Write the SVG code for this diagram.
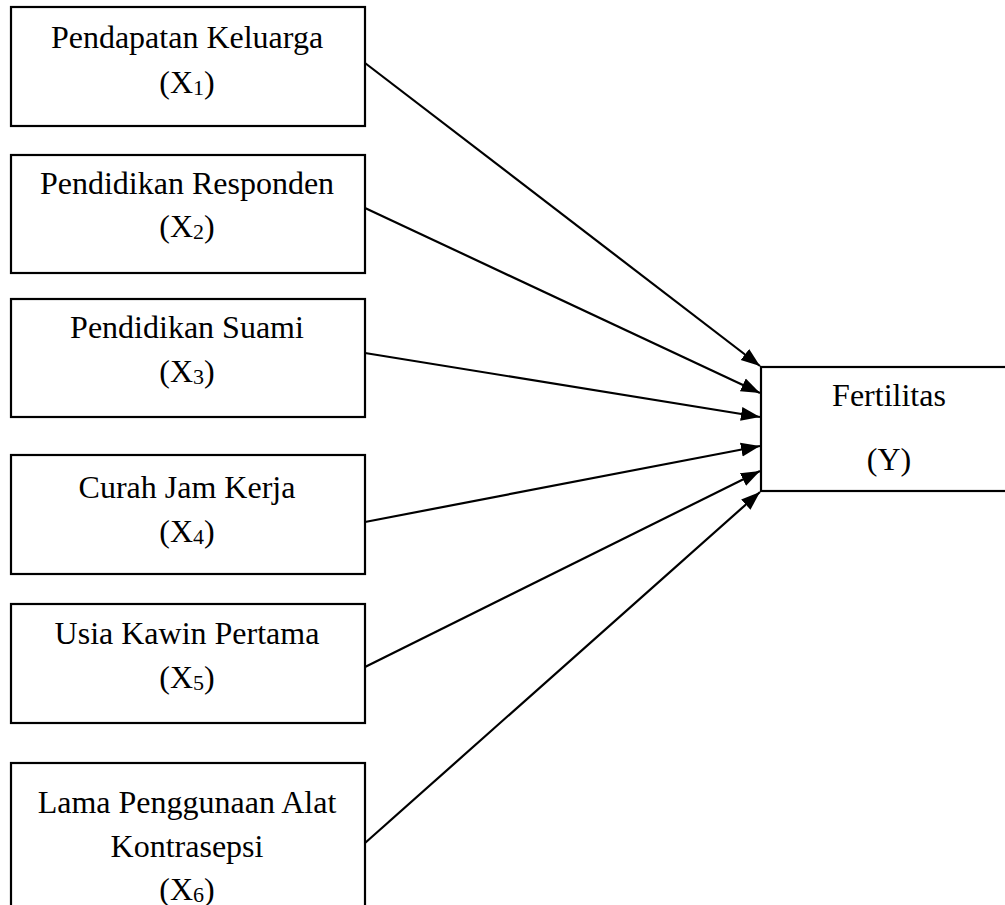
<svg xmlns="http://www.w3.org/2000/svg" width="1005" height="905" viewBox="0 0 1005 905">
<style>
.box{fill:#fff;stroke:#000;stroke-width:2.2}
.t{font-family:"Liberation Serif","Times New Roman",serif;font-size:32px;fill:#000;text-anchor:middle}
.sub{font-size:22px}
.c{stroke:#000;stroke-width:2.2;fill:none}
</style>
<defs>
<marker id="ah" markerUnits="userSpaceOnUse" markerWidth="20" markerHeight="16" viewBox="0 0 20 16" refX="19" refY="8" orient="auto">
<path d="M0,1 L19,8 L0,15 Z" fill="#000"/>
</marker>
</defs>
<g id="connectors">
<line class="c" x1="365" y1="63" x2="760" y2="366" marker-end="url(#ah)"/>
<line class="c" x1="365" y1="208" x2="760" y2="393" marker-end="url(#ah)"/>
<line class="c" x1="365" y1="353" x2="760" y2="417" marker-end="url(#ah)"/>
<line class="c" x1="365" y1="522" x2="760" y2="446" marker-end="url(#ah)"/>
<line class="c" x1="365" y1="667" x2="760" y2="471" marker-end="url(#ah)"/>
<line class="c" x1="365" y1="843" x2="760" y2="492" marker-end="url(#ah)"/>
</g>
<g id="x1">
<rect class="box" x="11" y="7" width="354" height="119"/>
<text class="t" x="187" y="48">Pendapatan Keluarga</text>
<text class="t" x="187" y="93">(X<tspan class="sub" dy="2">1</tspan><tspan dy="-2">)</tspan></text>
</g>
<g id="x2">
<rect class="box" x="11" y="155" width="354" height="118"/>
<text class="t" x="187" y="194">Pendidikan Responden</text>
<text class="t" x="187" y="237">(X<tspan class="sub" dy="2">2</tspan><tspan dy="-2">)</tspan></text>
</g>
<g id="x3">
<rect class="box" x="11" y="299" width="354" height="118"/>
<text class="t" x="187" y="338">Pendidikan Suami</text>
<text class="t" x="187" y="382">(X<tspan class="sub" dy="2">3</tspan><tspan dy="-2">)</tspan></text>
</g>
<g id="x4">
<rect class="box" x="11" y="455" width="354" height="119"/>
<text class="t" x="187" y="498">Curah Jam Kerja</text>
<text class="t" x="187" y="542">(X<tspan class="sub" dy="2">4</tspan><tspan dy="-2">)</tspan></text>
</g>
<g id="x5">
<rect class="box" x="11" y="604" width="354" height="119"/>
<text class="t" x="187" y="644">Usia Kawin Pertama</text>
<text class="t" x="187" y="688">(X<tspan class="sub" dy="2">5</tspan><tspan dy="-2">)</tspan></text>
</g>
<g id="x6">
<rect class="box" x="11" y="763" width="354" height="160"/>
<text class="t" x="187" y="813">Lama Penggunaan Alat</text>
<text class="t" x="187" y="857">Kontrasepsi</text>
<text class="t" x="187" y="900">(X<tspan class="sub" dy="2">6</tspan><tspan dy="-2">)</tspan></text>
</g>
<g id="y">
<rect class="box" x="761" y="367" width="260" height="124"/>
<text class="t" x="889" y="406">Fertilitas</text>
<text class="t" x="889" y="470">(Y)</text>
</g>
</svg>
